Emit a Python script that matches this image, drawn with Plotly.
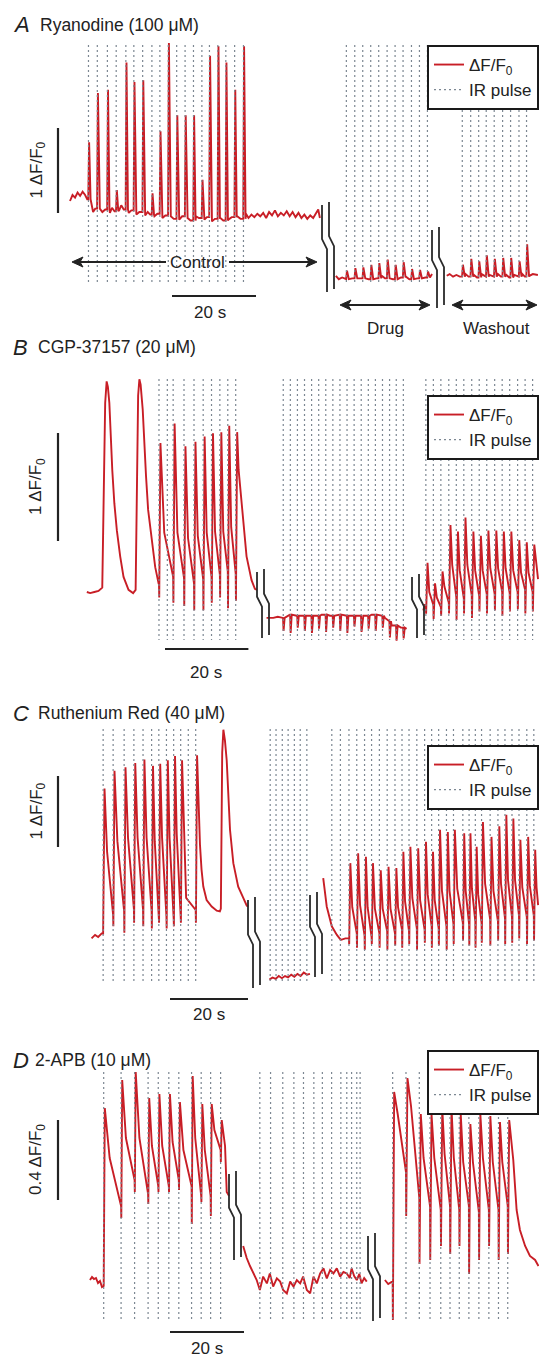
import plotly.graph_objects as go

# ============================ DATA ============================
# time in s (display time, segments separated by axis breaks), signal in ΔF/F0

# ---- Panel A : Ryanodine (100 µM) ----
a_ctrl_base_t = [0.0, 0.6, 1.2, 1.8, 2.4, 3.0, 3.6, 4.1, 5.5, 6.0, 7.1, 7.7, 8.4, 9.5, 10.0, 10.6,
                 11.7, 12.2, 12.8, 14.0, 14.6, 15.8, 16.5, 17.9, 18.5, 19.1, 20.1, 20.8, 22.0, 22.7,
                 24.0, 24.7, 26.0, 26.7, 28.0, 28.7, 30.0, 30.7, 32.0, 32.6, 33.8, 34.5, 35.8, 36.5,
                 37.7, 38.5, 39.8, 40.6, 41.9, 42.5, 43.2, 43.9, 44.6, 45.3, 46.0, 46.7, 47.4, 48.1,
                 48.8, 49.5, 50.2, 50.9, 51.6, 52.3, 53.0, 53.7, 54.4, 55.1, 55.8, 56.5, 57.2, 57.9,
                 58.6, 59.1, 59.5]
a_ctrl_base_v = [0.20, 0.27, 0.24, 0.30, 0.26, 0.31, 0.27, 0.22, 0.07, 0.11, 0.11, 0.07, 0.10, 0.06,
                 0.12, 0.08, 0.09, 0.15, 0.10, 0.06, 0.09, 0.04, 0.07, 0.03, 0.07, 0.04, 0.02, 0.05,
                 0.00, 0.03, 0.02, -0.01, -0.02, 0.02, 0.00, -0.03, 0.02, 0.00, -0.02, 0.01, -0.04,
                 -0.01, 0.00, -0.03, -0.02, 0.01, 0.02, -0.01, 0.05, 0.00, 0.04, 0.01, 0.05, 0.02,
                 0.06, 0.00, 0.07, 0.03, 0.09, 0.02, 0.06, 0.03, 0.08, 0.02, 0.07, 0.01, 0.06, 0.00,
                 0.04, -0.01, 0.03, 0.00, 0.05, 0.10, 0.00]
a_ctrl_pulse_t = [4.4, 6.5, 8.9, 11.0, 13.3, 15.2, 17.3, 19.5, 21.4, 23.4, 25.4, 27.4, 29.4, 31.4,
                  33.2, 35.2, 37.1, 39.2, 41.3]
a_ctrl_peak = [0.89, 1.47, 1.51, 0.33, 1.83, 1.60, 1.62, 0.29, 1.02, 2.06, 1.21, 1.21, 1.21, 0.45,
               1.91, 2.02, 1.83, 1.51, 2.02]

a_drug_base_t = [63.3, 64.0, 64.8, 65.5, 66.4, 67.2, 68.4, 69.2, 70.3, 71.1, 72.2, 73.0, 74.2, 75.0,
                 76.1, 76.9, 78.0, 78.8, 80.0, 80.8, 81.9, 82.7, 83.8, 84.6, 85.6, 86.2]
a_drug_base_v = [-0.68, -0.72, -0.70, -0.72, -0.69, -0.71, -0.68, -0.71, -0.69, -0.72, -0.69, -0.71,
                 -0.68, -0.71, -0.69, -0.72, -0.68, -0.70, -0.69, -0.72, -0.70, -0.71, -0.69, -0.70,
                 -0.68, -0.66]
a_drug_pulse_t = [65.8, 67.8, 69.7, 71.6, 73.5, 75.5, 77.4, 79.3, 81.3, 83.2, 85.1]
a_drug_peak = [-0.62, -0.59, -0.58, -0.55, -0.53, -0.49, -0.55, -0.52, -0.60, -0.61, -0.63]

a_wash_base_t = [89.7, 90.4, 91.2, 92.0, 92.8, 94.2, 94.9, 96.2, 96.9, 98.0, 98.8, 99.9, 100.7,
                 101.9, 102.6, 103.9, 104.6, 105.8, 106.5, 107.7, 108.3, 109.4, 110.2, 111.4]
a_wash_base_v = [-0.68, -0.66, -0.69, -0.67, -0.69, -0.66, -0.69, -0.67, -0.70, -0.66, -0.69, -0.67,
                 -0.69, -0.66, -0.69, -0.67, -0.70, -0.67, -0.69, -0.66, -0.69, -0.68, -0.66, -0.67]
a_wash_pulse_t = [93.4, 95.4, 97.3, 99.1, 101.0, 103.0, 104.9, 106.9, 108.7]
a_wash_peak = [-0.55, -0.48, -0.51, -0.44, -0.48, -0.47, -0.47, -0.51, -0.31]

# ---- Panel B : CGP-37157 (20 µM) ----
b_ctrl_base_t = [0.2, 1.0, 2.0, 3.0, 3.9, 4.3, 4.6, 4.95, 5.25, 5.6, 5.9, 6.3, 6.8, 7.4, 8.2, 9.0,
                 10.2, 11.3, 11.9, 12.2, 12.5, 12.8, 13.1, 13.6, 13.9, 14.4, 14.9, 15.8, 16.6, 17.4,
                 36.6, 37.7, 38.5, 39.7, 40.5, 41.0]
b_ctrl_base_v = [0.00, -0.01, 0.00, 0.01, 0.04, 1.00, 1.75, 1.95, 1.90, 1.75, 1.44, 1.13, 0.82, 0.57,
                 0.33, 0.14, 0.02, -0.01, 0.02, 1.00, 1.82, 1.97, 1.92, 1.69, 1.44, 1.07, 0.76, 0.45,
                 0.23, 0.08, 1.13, 0.67, 0.33, 0.11, 0.03, 0.02]
b_ctrl_pulse_t = [17.5, 19.5, 20.9, 23.5, 25.9, 28.1, 30.1, 32.1, 34.0, 35.9]
b_ctrl_spk_t = [17.5, 20.9, 23.5, 25.9, 28.1, 30.1, 32.1, 34.0, 35.9]
b_ctrl_peak = [1.38, 1.56, 1.35, 1.39, 1.44, 1.47, 1.48, 1.54, 1.48]
b_ctrl_knee = [0.55, 0.55, 0.50, 0.52, 0.55, 0.56, 0.56, 0.60, None]
b_ctrl_trough = [0.14, 0.13, 0.08, 0.12, 0.14, 0.16, 0.19, 0.17, None]
b_ctrl_dip = [-0.05, -0.10, -0.13, -0.17, -0.17, -0.10, -0.05, -0.15, -0.08]

b_drug_base_t = [43.3, 44.9, 46.0, 47.0, 48.9, 50.5, 52.5, 54.5, 56.5, 58.5, 60.5, 62.5, 64.5, 66.5,
                 68.5, 70.5, 71.7, 72.5, 73.3, 74.5, 75.5, 76.1, 76.9]
b_drug_base_v = [-0.24, -0.24, -0.23, -0.24, -0.21, -0.22, -0.21, -0.22, -0.21, -0.22, -0.21, -0.22,
                 -0.21, -0.22, -0.21, -0.22, -0.24, -0.27, -0.31, -0.34, -0.33, -0.32, -0.34]
b_drug_pulse_t = [47.3, 49.0, 50.7, 52.4, 54.1, 55.8, 57.5, 59.2, 60.9, 62.6, 64.3, 66.0, 67.7, 69.4,
                  71.1, 72.8, 74.4, 76.1]
b_drug_dip = [-0.36, -0.38, -0.33, -0.36, -0.38, -0.34, -0.37, -0.33, -0.36, -0.38, -0.32, -0.37,
              -0.34, -0.36, -0.33, -0.42, -0.45, -0.43]

b_wash_base_t = [80.9, 81.2, 108.0, 108.4]
b_wash_base_v = [-0.17, -0.12, 0.22, 0.12]
b_wash_pulse_t = [81.5, 83.3, 85.1, 87.0, 88.8, 90.6, 92.5, 94.3, 96.1, 98.0, 99.8, 101.6, 103.5,
                  105.3, 107.1]
b_wash_peak = [0.27, 0.08, 0.19, 0.62, 0.56, 0.69, 0.56, 0.52, 0.57, 0.57, 0.56, 0.56, 0.48, 0.46, 0.44]
b_wash_knee = [0.00, -0.05, 0.05, 0.25, 0.20, 0.25, 0.20, 0.20, 0.22, 0.22, 0.22, 0.20, 0.18, 0.18, None]
b_wash_trough = [-0.12, -0.14, -0.10, -0.05, -0.06, -0.03, -0.04, -0.02, -0.02, 0.00, -0.01, 0.00,
                 0.02, 0.00, None]
b_wash_dip = [-0.20, -0.25, -0.22, -0.20, -0.26, -0.20, -0.24, -0.18, -0.20, -0.17, -0.22, -0.18,
              -0.16, -0.20, -0.18]

# ---- Panel C : Ruthenium Red (40 µM) ----
c_ctrl_base_t = [0.4, 1.3, 2.1, 3.0, 27.8, 28.2, 28.6, 29.05, 29.9, 31.2, 32.5, 33.3, 33.55, 33.9,
                 34.2, 34.6, 35.05, 35.5, 35.9, 36.75, 38.0, 39.3, 40.2, 40.6]
c_ctrl_base_v = [-0.02, 0.03, 0.00, 0.05, 1.90, 1.30, 0.95, 0.71, 0.52, 0.43, 0.37, 0.36, 0.40, 2.60,
                 2.92, 2.77, 2.49, 1.98, 1.51, 1.04, 0.71, 0.55, 0.44, 0.43]
c_ctrl_pulse_t = [3.37, 5.93, 8.75, 11.25, 13.6, 15.8, 17.65, 19.6, 21.45, 23.25, 25.2, 27.1]
c_ctrl_spk_t = [3.37, 5.93, 8.75, 11.25, 13.6, 15.8, 17.65, 19.6, 21.45, 23.25, 27.1]
c_ctrl_peak = [2.09, 2.34, 2.39, 2.45, 2.50, 2.41, 2.44, 2.49, 2.55, 2.49, 2.56]
c_ctrl_knee = [1.20, 1.35, 1.40, 1.40, 1.40, 1.35, 1.40, 1.40, 1.45, 0.55, None]
c_ctrl_trough = [0.31, 0.36, 0.40, 0.38, 0.36, 0.33, 0.29, 0.26, 0.29, 0.38, None]
c_ctrl_dip = [None, 0.15, 0.06, 0.20, 0.15, 0.12, 0.20, 0.12, 0.15, 0.20, 0.20]

c_drug_base_t = [46.0, 46.8, 47.6, 48.4, 49.2, 50.0, 50.8, 51.6, 52.4, 53.2, 54.0, 54.8, 55.6, 56.4]
c_drug_base_v = [-0.60, -0.57, -0.59, -0.55, -0.58, -0.55, -0.57, -0.53, -0.56, -0.52, -0.55, -0.50,
                 -0.53, -0.52]
c_drug_pulse_t = [46.2, 47.7, 49.3, 50.8, 52.4, 53.9, 55.6]

c_wash_base_t = [59.8, 60.7, 62.0, 63.3, 64.3, 65.5, 114.5, 114.9]
c_wash_base_v = [0.83, 0.43, 0.15, 0.03, -0.04, -0.02, 0.70, 0.45]
c_wash_pulse_t = [62.0, 64.2, 66.4, 68.4, 70.4, 72.2, 74.2, 76.2, 78.2, 80.0, 81.8, 83.8, 85.8, 87.6,
                  89.4, 91.4, 93.2, 95.6, 97.2, 98.8, 100.4, 102.6, 104.6, 106.4, 108.2, 110.0,
                  112.0, 113.8]
c_wash_spk_t = [66.4, 68.4, 70.4, 72.2, 74.2, 76.2, 78.2, 80.0, 81.8, 83.8, 85.8, 87.6, 89.4, 91.4,
                93.2, 95.6, 97.2, 98.8, 100.4, 102.6, 104.6, 106.4, 108.2, 110.0, 112.0, 113.8]
c_wash_peak = [1.04, 1.18, 1.13, 1.04, 0.94, 0.99, 0.97, 1.20, 1.27, 1.25, 1.34, 1.20, 1.51, 1.48,
               1.51, 1.46, 1.46, 1.27, 1.62, 1.41, 1.56, 1.72, 1.67, 1.37, 1.41, 1.23]
c_wash_knee = [0.42, 0.45, 0.42, 0.40, 0.40, 0.40, 0.42, 0.50, 0.55, 0.52, 0.60, 0.52, 0.65, 0.65,
               0.68, 0.65, 0.68, 0.60, 0.75, 0.65, 0.75, 0.80, 0.80, 0.70, 0.72, None]
c_wash_trough = [0.05, 0.02, 0.00, 0.05, 0.08, 0.05, 0.10, 0.08, 0.12, 0.10, 0.15, 0.12, 0.15, 0.18,
                 0.20, 0.18, 0.22, 0.20, 0.25, 0.22, 0.27, 0.28, 0.30, 0.28, 0.30, None]
c_wash_dip = [-0.10, -0.15, -0.18, -0.10, -0.15, -0.18, -0.12, -0.15, -0.10, -0.18, -0.08, -0.15,
              -0.12, -0.18, -0.10, -0.05, -0.12, -0.15, -0.08, -0.12, -0.05, -0.10, -0.08, -0.02,
              -0.10, -0.05]

# ---- Panel D : 2-APB (10 µM) ----
d_ctrl_base_t = [0.0, 0.54, 1.08, 1.62, 2.16, 2.7, 3.24, 3.55, 36.0, 36.5, 36.95, 37.6]
d_ctrl_base_v = [0.010, 0.025, 0.015, 0.020, -0.005, 0.005, -0.025, -0.020, 0.74, 0.68, 0.45, 0.43]
d_ctrl_pulse_t = [3.7, 8.4, 12.05, 15.7, 18.45, 21.3, 24.0, 27.45, 30.05, 32.6, 35.3]
d_ctrl_peak = [0.87, 1.01, 1.05, 0.92, 0.94, 0.94, 0.90, 1.03, 0.89, 0.89, 0.81]
d_ctrl_knee = [0.62, 0.72, 0.72, 0.68, 0.68, 0.70, 0.66, 0.72, 0.66, 0.76, None]
d_ctrl_trough = [0.38, 0.51, 0.44, 0.48, 0.48, 0.51, 0.48, 0.43, 0.43, 0.66, None]
d_ctrl_dip = [None, 0.32, 0.45, 0.39, 0.45, 0.45, 0.46, 0.29, 0.40, 0.33, 0.60]

d_drug_base_t = [41.4, 42.35, 43.24, 44.1, 45.05, 45.9, 46.8, 47.8, 48.6, 49.5, 50.5, 51.4, 52.2,
                 53.2, 54.1, 55.0, 55.9, 56.8, 57.6, 58.6, 59.5, 60.4, 61.3, 62.2, 63.1, 64.0, 64.9,
                 65.8, 66.7, 67.6, 68.5, 69.4, 70.2, 70.7, 71.4, 72.1, 72.8, 73.4, 74.1, 74.8]
d_drug_base_v = [0.18, 0.12, 0.08, 0.045, 0.01, -0.04, 0.027, -0.007, 0.043, -0.023, 0.018, 0.002,
                 -0.04, -0.057, 0.002, -0.023, 0.01, -0.007, 0.027, -0.04, -0.057, 0.027, -0.007,
                 0.043, 0.068, 0.018, 0.06, 0.043, 0.068, 0.027, 0.05, 0.043, 0.02, 0.068, 0.03,
                 0.01, 0.04, -0.007, 0.02, 0.002]
d_drug_pulse_t = [45.9, 48.8, 52.1, 55.1, 57.7, 60.5, 62.8, 65.3, 67.8, 69.4, 70.7, 72.1, 73.0]

d_wash_base_t = [79.7, 80.6, 81.5, 114.4, 115.3, 116.2, 117.6, 118.9, 120.3, 121.2]
d_wash_base_v = [0.01, -0.01, 0.00, 0.61, 0.36, 0.26, 0.18, 0.13, 0.11, 0.08]
d_wash_pulse_t = [81.8, 85.4, 89.0, 91.9, 94.8, 97.3, 99.8, 102.4, 105.1, 107.8, 110.4, 112.9]
d_wash_peak = [0.95, 1.02, 0.84, 0.84, 0.87, 0.87, 0.84, 0.79, 0.84, 0.83, 0.80, 0.81]
d_wash_knee = [0.84, 0.88, 0.62, 0.62, 0.64, 0.62, 0.60, 0.60, 0.62, 0.60, 0.60, None]
d_wash_trough = [0.55, 0.42, 0.38, 0.36, 0.38, 0.36, 0.38, 0.35, 0.36, 0.36, 0.38, None]
d_wash_dip = [-0.19, 0.33, 0.09, 0.11, 0.18, 0.14, 0.18, 0.04, 0.11, 0.18, 0.11, 0.14]

titles = {'A': 'Ryanodine (100 μM)', 'B': 'CGP-37157 (20 μM)',
          'C': 'Ruthenium Red (40 μM)', 'D': '2-APB (10 μM)'}
scale_units = {'A': 1, 'B': 1, 'C': 1, 'D': 0.4}
scale_labels = {'A': '1 ΔF/F<sub>0</sub>', 'B': '1 ΔF/F<sub>0</sub>',
                'C': '1 ΔF/F<sub>0</sub>', 'D': '0.4 ΔF/F<sub>0</sub>'}
legend_names = ('ΔF/F<sub>0</sub>', 'IR pulse')
time_bar_s = 20

# ============================ LAYOUT (pixels) ============================
W, H = 539, 1357
RED = '#c81e26'
GREY = '#7c8792'
INK = '#222222'
FONT = 'Arial, "Liberation Sans", Helvetica, sans-serif'

# panel axis geometry: x0 = pixel of t=0, pps = px per s, yb = pixel of 0 ΔF/F0, ppu = px per unit
GEOM = {
    'A': dict(k=1, x0=70, pps=4.2, yb=218, ppu=85, dot=(45, 285)),
    'B': dict(k=2, x0=86, pps=4.17, yb=592, ppu=108, dot=(379, 640)),
    'C': dict(k=3, x0=90, pps=3.9, yb=937, ppu=71, dot=(729, 984)),
    'D': dict(k=4, x0=90, pps=3.7, yb=1282, ppu=200, dot=(1072, 1321)),
}
DECOR = {
    'A': dict(title_y=25, title_x=38, vbar=(128, 213), hbar=(172, 256, 296), hlab=(210, 313),
              legend_top=45, breaks=[(322, 205, 292), (432, 230, 308)]),
    'B': dict(title_y=347, title_x=36, vbar=(433, 541), hbar=(165, 248.4, 649), hlab=(206, 672),
              legend_top=395, breaks=[(257, 572, 638), (412, 577, 638)]),
    'C': dict(title_y=713, title_x=36, vbar=(776, 847), hbar=(170, 248, 999), hlab=(209, 1015),
              legend_top=745, breaks=[(248, 900, 988), (310, 895, 977)]),
    'D': dict(title_y=1060, title_x=33, vbar=(1120, 1200), hbar=(170, 244, 1332), hlab=(207, 1348),
              legend_top=1050, breaks=[(229, 1174, 1260), (368, 1236, 1321)]),
}


def t_of(p, xpx):
    g = GEOM[p]
    return (xpx - g['x0']) / g['pps']


def v_of(p, ypx):
    g = GEOM[p]
    return (g['yb'] - ypx) / g['ppu']


def pxx(xpx):
    return xpx / W


def pxy(ypx):
    return 1 - ypx / H


def axn(p):
    k = GEOM[p]['k']
    return ('x' if k == 1 else f'x{k}'), ('y' if k == 1 else f'y{k}')


# ---- building the line vertices from the read values ----
def narrow(bt, bv, st, peaks, rise=0.15, width=0.35):
    keep = [(t, v) for t, v in zip(bt, bv)
            if not any(s - 0.05 < t < s + rise + width + 0.05 for s in st)]
    pts = list(keep)
    for s, pk in zip(st, peaks):
        prev = [v for t, v in keep if t <= s]
        foot = prev[-1] if prev else keep[0][1]
        pts += [(s - 0.05, foot), (s + rise, pk), (s + rise + width, foot)]
    return sorted(pts)


def train(bt, bv, st, peaks, knees, troughs, dips, rise=0.35, kfrac=0.3):
    base = list(zip(bt, bv))
    pts = list(base)
    n = len(st)
    for i in range(n):
        s = st[i]
        if i > 0:
            pts.append((s, troughs[i - 1]))
        else:
            prev = [v for t, v in base if t <= s]
            if prev:
                pts.append((s, prev[-1]))
        if dips[i] is not None:
            pts.append((s + 0.06, dips[i]))
        pts.append((s + rise, peaks[i]))
        if i < n - 1:
            pts.append((s + rise + kfrac * (st[i + 1] - s - rise), knees[i]))
    return sorted(pts)


SEGMENTS = {
    'A': [narrow(a_ctrl_base_t, a_ctrl_base_v, a_ctrl_pulse_t, a_ctrl_peak),
          narrow(a_drug_base_t, a_drug_base_v, a_drug_pulse_t, a_drug_peak, width=0.45),
          narrow(a_wash_base_t, a_wash_base_v, a_wash_pulse_t, a_wash_peak, width=0.45)],
    'B': [train(b_ctrl_base_t, b_ctrl_base_v, b_ctrl_spk_t, b_ctrl_peak, b_ctrl_knee,
                b_ctrl_trough, b_ctrl_dip),
          narrow(b_drug_base_t, b_drug_base_v, b_drug_pulse_t, b_drug_dip, rise=0.08, width=0.25),
          train(b_wash_base_t, b_wash_base_v, b_wash_pulse_t, b_wash_peak, b_wash_knee,
                b_wash_trough, b_wash_dip, rise=0.4)],
    'C': [train(c_ctrl_base_t, c_ctrl_base_v, c_ctrl_spk_t, c_ctrl_peak, c_ctrl_knee,
                c_ctrl_trough, c_ctrl_dip),
          sorted(zip(c_drug_base_t, c_drug_base_v)),
          train(c_wash_base_t, c_wash_base_v, c_wash_spk_t, c_wash_peak, c_wash_knee,
                c_wash_trough, c_wash_dip)],
    'D': [train(d_ctrl_base_t, d_ctrl_base_v, d_ctrl_pulse_t, d_ctrl_peak, d_ctrl_knee,
                d_ctrl_trough, d_ctrl_dip, rise=0.3),
          sorted(zip(d_drug_base_t, d_drug_base_v)),
          train(d_wash_base_t, d_wash_base_v, d_wash_pulse_t, d_wash_peak, d_wash_knee,
                d_wash_trough, d_wash_dip, rise=0.4)],
}
PULSES = {
    'A': a_ctrl_pulse_t + a_drug_pulse_t + a_wash_pulse_t,
    'B': b_ctrl_pulse_t + b_drug_pulse_t + b_wash_pulse_t,
    'C': c_ctrl_pulse_t + c_drug_pulse_t + c_wash_pulse_t,
    'D': d_ctrl_pulse_t + d_drug_pulse_t + d_wash_pulse_t,
}

fig = go.Figure()
shapes, anns = [], []


def label(x, y, txt, size=17, xanchor='center', **kw):
    d = dict(x=pxx(x), y=pxy(y), xref='paper', yref='paper', text=txt, showarrow=False,
             xanchor=xanchor, yanchor='middle', font=dict(size=size, color=INK, family=FONT))
    d.update(kw)
    anns.append(d)


for p in ['A', 'B', 'C', 'D']:
    g, dec = GEOM[p], DECOR[p]
    xa, ya = axn(p)
    leg = 'legend' if g['k'] == 1 else f"legend{g['k']}"
    for j, seg in enumerate(SEGMENTS[p]):
        fig.add_trace(go.Scatter(
            x=[q[0] for q in seg], y=[q[1] for q in seg], mode='lines',
            line=dict(color=RED, width=1.9), name=legend_names[0],
            showlegend=(j == 0), legend=leg, legendgroup=p + 'f',
            xaxis=xa, yaxis=ya, hoverinfo='skip'))
    top_v, bot_v = v_of(p, g['dot'][0]), v_of(p, g['dot'][1])
    dx, dy = [], []
    for t in PULSES[p]:
        dx += [t, t, None]
        dy += [top_v, bot_v, None]
    fig.add_trace(go.Scatter(
        x=dx, y=dy, mode='lines', line=dict(color=GREY, width=1.2, dash='2px,3px'),
        name=legend_names[1], legend=leg, legendgroup=p + 'i', xaxis=xa, yaxis=ya,
        hoverinfo='skip'))

    # axis break marks
    for (xl, yt, yb) in dec['breaks']:
        for k in (0, 1):
            x = xl + 7 * k
            top, bot = yt - 3 * k, yb - 3 * k
            mid = top + 0.45 * (bot - top)
            path_pts = [(x, top), (x, mid - 5), (x + 5, mid + 5), (x + 5, bot)]
            path = 'M ' + ' L '.join(f'{t_of(p, a):.3f},{v_of(p, b):.4f}' for a, b in path_pts)
            shapes.append(dict(type='path', path=path, xref=xa, yref=ya,
                               line=dict(color='#2a2a2a', width=1.8)))

    # vertical scale bar
    v0 = v_of(p, dec['vbar'][1])
    shapes.append(dict(type='line', xref='paper', yref=ya, x0=pxx(58), x1=pxx(58),
                       y0=v0, y1=v0 + scale_units[p], line=dict(color=INK, width=2.2)))
    label(37, (dec['vbar'][0] + dec['vbar'][1]) / 2, scale_labels[p], textangle=-90)
    # horizontal time bar
    t0 = t_of(p, dec['hbar'][0])
    shapes.append(dict(type='line', xref=xa, yref='paper', x0=t0, x1=t0 + time_bar_s,
                       y0=pxy(dec['hbar'][2]), y1=pxy(dec['hbar'][2]),
                       line=dict(color=INK, width=2.2)))
    label(dec['hlab'][0], dec['hlab'][1], f'{time_bar_s} s')
    # panel letter + title
    label(11, dec['title_y'], f'<i>{p}</i>', size=22, xanchor='left')
    label(dec['title_x'], dec['title_y'], titles[p], size=17.5, xanchor='left')


# Panel A condition arrows (line + filled heads drawn as shapes)
def arrow(head_x, tail_x, y):
    d = 1 if tail_x > head_x else -1
    shapes.append(dict(type='line', xref='paper', yref='paper',
                       x0=pxx(head_x + d * 6), x1=pxx(tail_x), y0=pxy(y), y1=pxy(y),
                       line=dict(color=INK, width=2)))
    hp = [(head_x, y), (head_x + d * 11, y - 5), (head_x + d * 8, y), (head_x + d * 11, y + 5)]
    path = 'M ' + ' L '.join(f'{pxx(a):.5f},{pxy(b):.5f}' for a, b in hp) + ' Z'
    shapes.append(dict(type='path', path=path, xref='paper', yref='paper',
                       fillcolor=INK, line=dict(color=INK, width=1)))


arrow(72, 166, 262)
arrow(317, 229, 262)
arrow(340, 386, 305)
arrow(430, 384, 305)
arrow(452, 496, 305)
arrow(537, 494, 305)
label(197, 262, 'Control')
label(385, 328, 'Drug')
label(496, 328, 'Washout')

layout = dict(width=W, height=H, margin=dict(l=0, r=0, t=0, b=0), autosize=False,
              paper_bgcolor='white', plot_bgcolor='rgba(0,0,0,0)',
              font=dict(family=FONT, color=INK, size=17), shapes=shapes, annotations=anns,
              hovermode=False)
for p in ['A', 'B', 'C', 'D']:
    g = GEOM[p]
    k = g['k']
    xk = 'xaxis' if k == 1 else f'xaxis{k}'
    yk = 'yaxis' if k == 1 else f'yaxis{k}'
    layout[xk] = dict(domain=[0, 1], range=[t_of(p, 0), t_of(p, W)], visible=False,
                      anchor='y' if k == 1 else f'y{k}', fixedrange=True)
    layout[yk] = dict(domain=[0, 1], range=[v_of(p, H), v_of(p, 0)], visible=False,
                      anchor='x' if k == 1 else f'x{k}', fixedrange=True)
    lk = 'legend' if k == 1 else f'legend{k}'
    layout[lk] = dict(x=1, xanchor='right', y=pxy(DECOR[p]['legend_top']), yanchor='top',
                      bgcolor='white', bordercolor='#1a1a1a', borderwidth=2,
                      font=dict(size=17, color=INK, family=FONT), itemwidth=30,
                      tracegroupgap=0)

fig.update_layout(**layout)
fig.write_html('out.html', config={'displayModeBar': False},
               post_script="document.body.style.margin='0';document.body.style.overflow='hidden';")
